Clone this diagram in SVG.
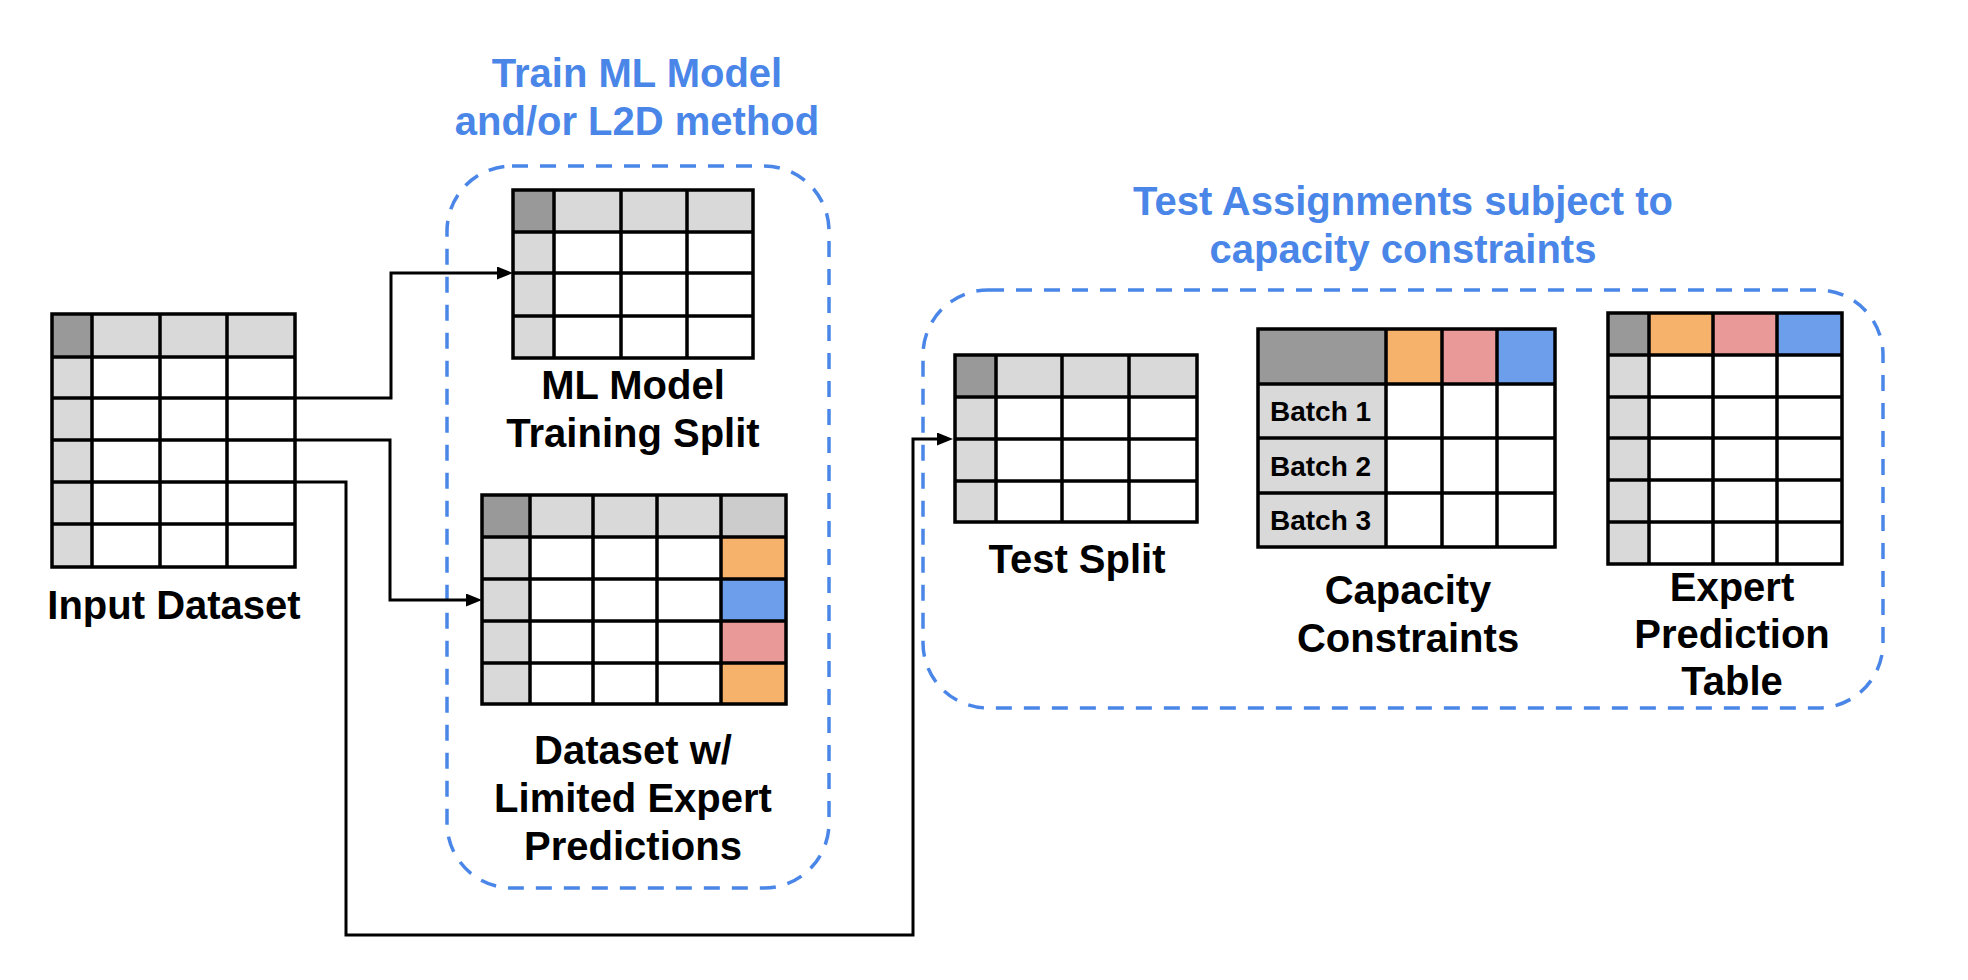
<svg xmlns="http://www.w3.org/2000/svg" width="1968" height="980" viewBox="0 0 1968 980">
<style>
.grid{fill:none;stroke:#000;stroke-width:3.5;stroke-linecap:square}
.dk{fill:#999999}
.lt{fill:#d9d9d9}
.wh{fill:#ffffff}
.or{fill:#f6b26b}
.pk{fill:#ea9999}
.bl{fill:#6d9eeb}
.lbl{font-family:"Liberation Sans",Arial,sans-serif;font-weight:bold;font-size:40px;fill:#000;text-anchor:middle}
.ttl{font-family:"Liberation Sans",Arial,sans-serif;font-weight:bold;font-size:40px;fill:#4a86e8;text-anchor:middle}
.bt{font-family:"Liberation Sans",Arial,sans-serif;font-weight:bold;font-size:28px;fill:#000}
.box{fill:none;stroke:#4a86e8;stroke-width:3.5;stroke-dasharray:16 12}
.con{fill:none;stroke:#000;stroke-width:3}
</style>
<defs>
<marker id="arr" viewBox="0 0 16 13" refX="6" refY="6.5" markerWidth="16" markerHeight="13" markerUnits="userSpaceOnUse" orient="auto">
<path d="M0,0 L16,6.5 L0,13 Z" fill="#000"/>
</marker>
</defs>
<rect width="1968" height="980" fill="#ffffff"/>

<g id="group-train">
<rect class="box" x="447" y="166" width="382" height="722" rx="65" ry="65"/>
<text class="ttl" x="637" y="87">Train ML Model</text>
<text class="ttl" x="637" y="135">and/or L2D method</text>
</g>

<g id="group-test">
<rect class="box" x="923" y="290" width="960" height="418" rx="65" ry="65"/>
<text class="ttl" x="1403" y="215">Test Assignments subject to</text>
<text class="ttl" x="1403" y="263">capacity constraints</text>
</g>

<g id="connectors">
<path class="con" d="M295,398 H391 V273 H503" marker-end="url(#arr)"/>
<path class="con" d="M295,440 H390 V600 H472" marker-end="url(#arr)"/>
<path class="con" d="M295,482 H346 V935 H913 V439 H943" marker-end="url(#arr)"/>
</g>

<g id="input-dataset">
<rect class="dk" x="52" y="314" width="40" height="43"/>
<rect class="lt" x="92" y="314" width="203" height="43"/>
<rect class="lt" x="52" y="357" width="40" height="210"/>
<rect class="wh" x="92" y="357" width="203" height="210"/>
<path class="grid" d="M52,314 H295 V567 H52 Z M92,314 V567 M160,314 V567 M227,314 V567 M52,357 H295 M52,398 H295 M52,440 H295 M52,482 H295 M52,524 H295"/>
<text class="lbl" x="174" y="619">Input Dataset</text>
</g>

<g id="ml-training-split">
<rect class="dk" x="513" y="190" width="41" height="42"/>
<rect class="lt" x="554" y="190" width="199" height="42"/>
<rect class="lt" x="513" y="232" width="41" height="126"/>
<rect class="wh" x="554" y="232" width="199" height="126"/>
<path class="grid" d="M513,190 H753 V358 H513 Z M554,190 V358 M621,190 V358 M687,190 V358 M513,232 H753 M513,273 H753 M513,316 H753"/>
<text class="lbl" x="633" y="399">ML Model</text>
<text class="lbl" x="633" y="447">Training Split</text>
</g>

<g id="dataset-limited-expert">
<rect class="dk" x="482" y="495" width="48" height="42"/>
<rect class="lt" x="530" y="495" width="191" height="42"/>
<rect fill="#cccccc" x="721" y="495" width="65" height="42"/>
<rect class="lt" x="482" y="537" width="48" height="167"/>
<rect class="wh" x="530" y="537" width="191" height="167"/>
<rect class="or" x="721" y="537" width="65" height="42"/>
<rect class="bl" x="721" y="579" width="65" height="42"/>
<rect class="pk" x="721" y="621" width="65" height="42"/>
<rect class="or" x="721" y="663" width="65" height="41"/>
<path class="grid" d="M482,495 H786 V704 H482 Z M530,495 V704 M593,495 V704 M657,495 V704 M721,495 V704 M482,537 H786 M482,579 H786 M482,621 H786 M482,663 H786"/>
<text class="lbl" x="633" y="764">Dataset w/</text>
<text class="lbl" x="633" y="812">Limited Expert</text>
<text class="lbl" x="633" y="860">Predictions</text>
</g>

<g id="test-split">
<rect class="dk" x="955" y="355" width="41" height="42"/>
<rect class="lt" x="996" y="355" width="201" height="42"/>
<rect class="lt" x="955" y="397" width="41" height="125"/>
<rect class="wh" x="996" y="397" width="201" height="125"/>
<path class="grid" d="M955,355 H1197 V522 H955 Z M996,355 V522 M1062,355 V522 M1129,355 V522 M955,397 H1197 M955,439 H1197 M955,481 H1197"/>
<text class="lbl" x="1077" y="573">Test Split</text>
</g>

<g id="capacity-constraints">
<rect class="dk" x="1258" y="329" width="128" height="55"/>
<rect class="or" x="1386" y="329" width="56" height="55"/>
<rect class="pk" x="1442" y="329" width="55" height="55"/>
<rect class="bl" x="1497" y="329" width="58" height="55"/>
<rect class="lt" x="1258" y="384" width="128" height="163"/>
<rect class="wh" x="1386" y="384" width="169" height="163"/>
<path class="grid" d="M1258,329 H1555 V547 H1258 Z M1386,329 V547 M1442,329 V547 M1497,329 V547 M1258,384 H1555 M1258,438 H1555 M1258,493 H1555"/>
<text class="bt" x="1270" y="421">Batch 1</text>
<text class="bt" x="1270" y="476">Batch 2</text>
<text class="bt" x="1270" y="530">Batch 3</text>
<text class="lbl" x="1408" y="604">Capacity</text>
<text class="lbl" x="1408" y="652">Constraints</text>
</g>

<g id="expert-prediction-table">
<rect class="dk" x="1608" y="313" width="41" height="42"/>
<rect class="or" x="1649" y="313" width="64" height="42"/>
<rect class="pk" x="1713" y="313" width="64" height="42"/>
<rect class="bl" x="1777" y="313" width="65" height="42"/>
<rect class="lt" x="1608" y="355" width="41" height="209"/>
<rect class="wh" x="1649" y="355" width="193" height="209"/>
<path class="grid" d="M1608,313 H1842 V564 H1608 Z M1649,313 V564 M1713,313 V564 M1777,313 V564 M1608,355 H1842 M1608,397 H1842 M1608,438 H1842 M1608,480 H1842 M1608,522 H1842"/>
<text class="lbl" x="1732" y="601">Expert</text>
<text class="lbl" x="1732" y="648">Prediction</text>
<text class="lbl" x="1732" y="695">Table</text>
</g>
</svg>
